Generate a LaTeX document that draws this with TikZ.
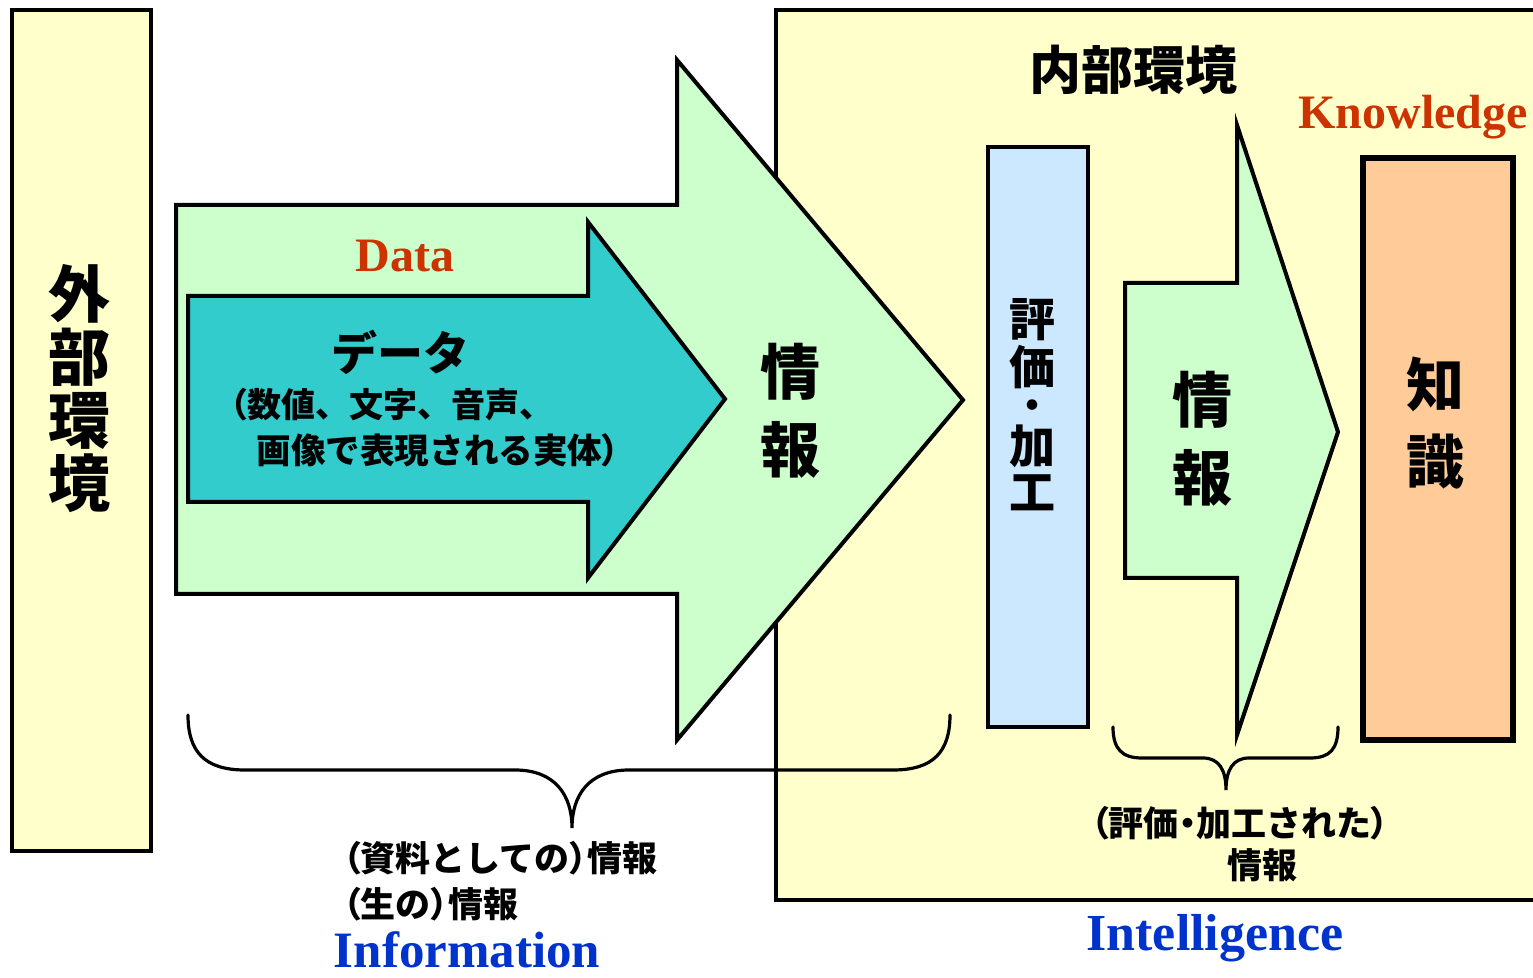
\documentclass[tikz,border=0pt]{standalone}
\usepackage{fontspec}
\setmainfont{Liberation Serif}
\newfontfamily\jp{Noto Sans CJK JP}
\newfontfamily\jpnarrow{Noto Sans CJK JP}[RawFeature=+palt]
\newcommand\hw[1]{{\jpnarrow #1}}
\definecolor{envyellow}{HTML}{FFFFCC}
\definecolor{infogreen}{HTML}{CCFFCC}
\definecolor{datateal}{HTML}{33CCCC}
\definecolor{evalblue}{HTML}{CCE8FF}
\definecolor{knoworange}{HTML}{FFCC99}
\definecolor{labelred}{HTML}{CC3300}
\definecolor{labelblue}{HTML}{0033CC}
\tikzset{
  panel/.style={draw=black,line width=2pt,line join=miter},
  bracket/.style={draw=black,line width=1.6pt,line cap=round},
  jp/.style={font={\jp\bfseries\fontsize{#1}{#1}\selectfont},inner sep=0pt,align=center},
  vstack/.style 2 args={font={\jp\bfseries\fontsize{#1}{#2}\selectfont},inner sep=0pt,align=center},
  en/.style 2 args={font={\bfseries\fontsize{#1}{#1}\selectfont},text=#2,inner sep=0pt},
}
\begin{document}
\begin{tikzpicture}[x=0.5pt,y=-0.5pt]
\useasboundingbox (0,0) rectangle (1533,978);
\fill[white] (0,0) rectangle (1533,978);

% internal environment panel (runs off the right edge)
\draw[panel,fill=envyellow] (776,10) rectangle (1560,900);
% external environment panel
\draw[panel,fill=envyellow] (12,10) rectangle (151,851);

% broad information arrow
\draw[panel,fill=infogreen] (176,205) -- (677,205) -- (677,60) -- (963,400)
  -- (677,740) -- (677,594) -- (176,594) -- cycle;
% data arrow inside it
\draw[panel,fill=datateal] (188,296) -- (588,296) -- (588,222) -- (725,399)
  -- (588,578) -- (588,502) -- (188,502) -- cycle;

% evaluation / processing column
\draw[panel,fill=evalblue] (988,147) rectangle (1088,727);
% processed information arrow
\draw[panel,fill=infogreen] (1125,283) -- (1237,283) -- (1237,125) -- (1338,432)
  -- (1237,735) -- (1237,578) -- (1125,578) -- cycle;
% knowledge column
\draw[panel,line width=2.6pt,fill=knoworange] (1363,158) rectangle (1513,740);

% braces
\coordinate (b1l) at (188,715);
\coordinate (b1r) at (950,715);
\coordinate (b1p) at (572,828);
\draw[bracket] (b1l) .. controls (188,752) and (205,770) .. (245,770) -- (515,770)
  .. controls (555,770) and (572,795) .. (b1p)
  .. controls (572,795) and (589,770) .. (629,770) -- (893,770)
  .. controls (933,770) and (950,752) .. (b1r);
\coordinate (b2l) at (1113,727);
\coordinate (b2r) at (1338,727);
\coordinate (b2p) at (1226,790);
\draw[bracket] (b2l) .. controls (1113,749) and (1122,758) .. (1142,758) -- (1203,758)
  .. controls (1219,758) and (1226,770) .. (b2p)
  .. controls (1226,770) and (1233,758) .. (1249,758) -- (1310,758)
  .. controls (1330,758) and (1338,749) .. (b2r);

% texts
\node[vstack={31}{31.5}] (ext) at (79,389) {外\\部\\環\\境};
\node[en={24}{labelred}] (datal) at (405,256) {Data};
\node[jp=23] (dataj) at (400,352) {データ};
\node[jp=17,anchor=west] (datad1) at (230,405) {\hw{（}数値、文字、音声、};
\node[jp=17.3,anchor=west] (datad2) at (256,450) {画像で表現される実体\hw{）}};
\node[vstack={30}{39}] (info) at (790,411) {情\\報};

\node[jp=26] (inner) at (1133,70) {内部環境};
\node[en={24}{labelred}] (know) at (1413,117) {Knowledge};
% vertical label of the evaluation column, one glyph per node
\node[jp=23] (ev1) at (1032,320) {評};
\node[jp=23] (ev2) at (1032,367) {価};
\node[jp=19] (ev3) at (1032,410) {・};
\node[jp=23] (ev4) at (1032,446) {加};
\node[jp=23] (ev5) at (1032,493) {工};
\node[vstack={30}{39}] (sinfo) at (1202,439) {情\\報};
\node[vstack={29}{38.5}] (knowj) at (1435,423) {知\\識};

\node[jp=17.5,anchor=west] (raw1) at (343,858) {\hw{（}資料としての\hw{）}情報};
\node[jp=17.5,anchor=west] (raw2) at (343,904) {\hw{（}生の\hw{）}情報};
\node[en={25.5}{labelblue}] (information) at (467,950) {Information};

\node[jp=17.5] (proc1) at (1240,823) {\hw{（}評価\hw{・}加工された\hw{）}};
\node[jp=17.5] (proc2) at (1262,865) {情報};
\node[en={26}{labelblue}] (intel) at (1215,938) {Intelligence};
\end{tikzpicture}
\end{document}
